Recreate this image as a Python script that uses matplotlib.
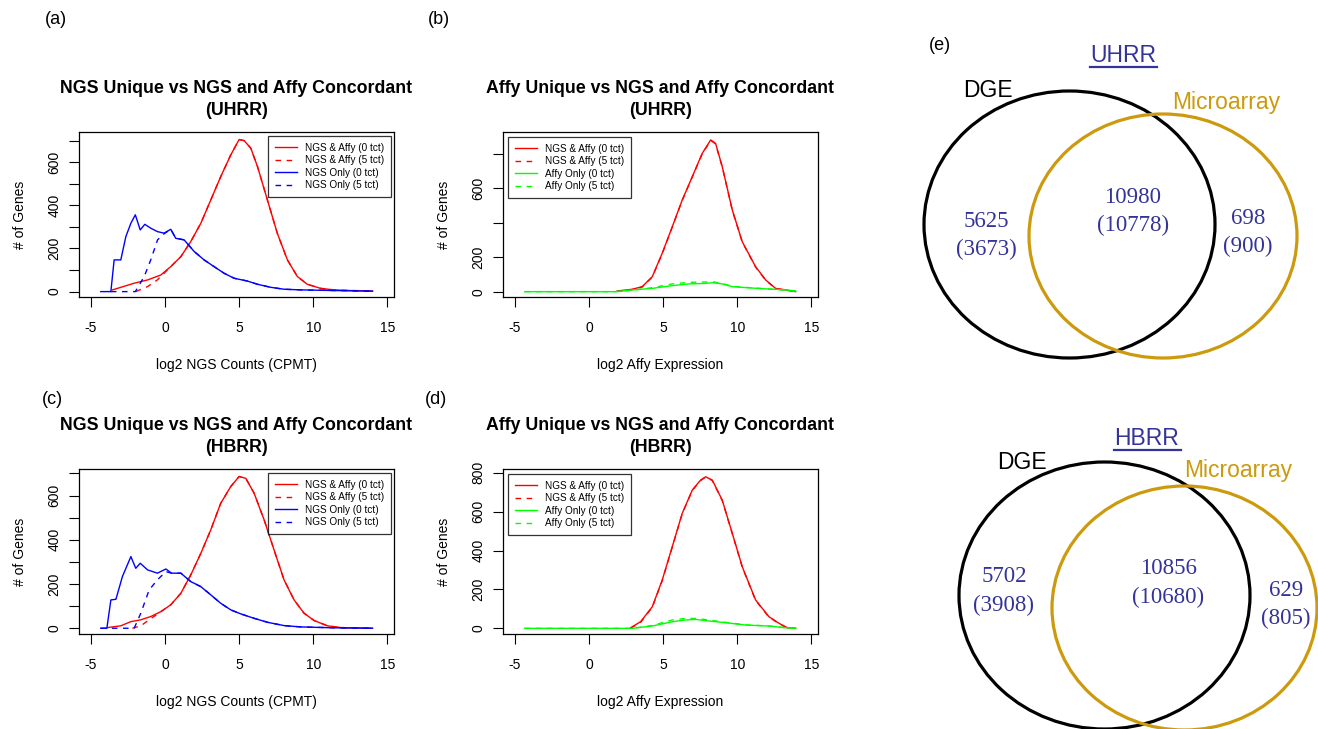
import numpy as np
import matplotlib
matplotlib.use("Agg")
import matplotlib.pyplot as plt
from matplotlib.patches import Ellipse

plt.rcParams['font.family'] = ['Liberation Sans', 'DejaVu Sans']
plt.rcParams['axes.unicode_minus'] = False

W, H = 1318, 729

# (a) NGS unique vs concordant, UHRR  (x = log2 CPMT, y = # of genes)
a_conc_x = [-3.54, -2.08, -1.18, -0.28, 0.39, 1.07, 1.74, 2.42, 3.09, 3.76, 4.44, 5.0,
            5.34, 5.79, 6.24, 6.91, 7.58, 8.26, 8.93, 9.6, 10.5, 11.4, 12.5, 14.0]
a_conc_y = [8, 39, 54, 77, 116, 162, 232, 317, 425, 533, 634, 705,
            700, 665, 580, 425, 270, 147, 70, 34, 15, 8, 5, 3]
a_conc5_x = [-1.97, -1.18, -0.5] + a_conc_x[4:]
a_conc5_y = [0, 23, 55] + a_conc_y[4:]
a_only_x = [-4.33, -3.65, -3.43, -2.98, -2.64, -2.3, -2.0, -1.67, -1.36, -0.96, -0.5, -0.06,
            0.39, 0.73, 1.29, 1.97, 2.64, 3.31, 3.99, 4.66, 5.56, 6.24, 7.13, 8.03, 9.16, 11.4, 14.0]
a_only_y = [0, 0, 147, 147, 255, 317, 356, 286, 312, 294, 278, 271,
            289, 247, 240, 186, 147, 116, 85, 62, 49, 34, 20, 11, 8, 5, 2]
a_only5_x = [-3.65, -2.0, -1.4, -0.96, -0.5, -0.06] + a_only_x[12:]
a_only5_y = [0, 0, 70, 147, 240, 268] + a_only_y[12:]

# (b) Affy unique vs concordant, UHRR  (x = log2 Affy expression)
b_conc_x = [1.91, 2.92, 3.59, 4.27, 4.94, 5.62, 6.29, 6.97, 7.64, 8.21, 8.54, 8.99,
            9.67, 10.34, 11.24, 11.92, 12.59, 13.27, 13.94]
b_conc_y = [4, 14, 29, 87, 223, 377, 532, 668, 803, 881, 861, 726,
            474, 290, 145, 68, 19, 10, 0]
b_conc5_y = [2, 12, 27, 85, 220, 375, 530, 666, 800, 878, 858, 724,
             472, 288, 143, 66, 18, 9, 0]
b_only_x = [-4.33, 1.79, 2.92, 4.27, 5.62, 6.74, 7.87, 8.32, 8.99, 9.67, 11.02, 12.37, 13.27, 13.94]
b_only_y = [0, 0, 10, 19, 35, 45, 48, 52, 45, 29, 21, 14, 10, 4]
b_only5_y = [0, 0, 8, 23, 45, 54, 56, 58, 48, 31, 22, 14, 9, 3]

# (c) NGS unique vs concordant, HBRR
c_conc_x = [-3.88, -2.98, -2.3, -1.63, -0.96, -0.28, 0.39, 1.07, 1.74, 2.42, 3.09, 3.76,
            4.44, 5.0, 5.45, 6.01, 6.69, 7.36, 8.03, 8.71, 9.38, 10.06, 10.96, 11.85, 14.0]
c_conc_y = [3, 11, 30, 38, 53, 75, 106, 158, 241, 339, 445, 565,
            641, 686, 678, 611, 490, 354, 219, 128, 68, 35, 11, 3, 0]
c_conc5_x = [-2.2, -1.63, -1.07] + c_conc_x[5:]
c_conc5_y = [0, 11, 38] + c_conc_y[5:]
c_only_x = [-4.33, -3.92, -3.65, -3.31, -2.87, -2.3, -1.97, -1.67, -1.18, -0.51, 0.06, 0.44,
            1.07, 1.74, 2.42, 3.09, 3.76, 4.44, 5.11, 6.01, 6.91, 8.03, 9.16, 11.4, 14.0]
c_only_y = [0, 0, 128, 131, 234, 324, 271, 294, 264, 249, 268, 249,
            249, 211, 188, 151, 113, 83, 65, 45, 27, 12, 6, 2, 0]
c_only5_x = [-4.33, -2.08, -1.63, -1.07, -0.51, 0.06] + c_only_x[11:]
c_only5_y = [0, 0, 68, 173, 219, 256] + c_only_y[11:]

# (d) Affy unique vs concordant, HBRR
d_conc_x = [2.81, 3.48, 4.27, 4.94, 5.62, 6.29, 6.97, 7.53, 7.87, 8.32, 8.99, 9.67,
            10.34, 11.24, 12.14, 12.82, 13.38, 13.94]
d_conc_y = [3, 34, 111, 248, 420, 591, 711, 762, 779, 762, 659, 488,
            317, 146, 60, 26, 3, 0]
d_conc5_y = [1, 31, 108, 245, 418, 589, 709, 760, 777, 760, 657, 486,
             315, 144, 58, 24, 2, 0]
d_only_x = [-4.33, 2.92, 4.27, 5.62, 6.51, 7.19, 8.09, 9.22, 10.57, 12.14, 13.27, 13.94]
d_only_y = [0, 0, 12, 34, 43, 46, 38, 29, 17, 12, 3, 0]
d_only5_y = [0, 0, 15, 43, 51, 51, 43, 31, 18, 12, 3, 0]

# (e) Venn counts: DGE only, both, microarray only; second row = 5 tct
venn_uhrr = [5625, 10980, 698]
venn_uhrr5 = [3673, 10778, 900]
venn_hbrr = [5702, 10856, 629]
venn_hbrr5 = [3908, 10680, 805]

fig = plt.figure(figsize=(W / 100, H / 100), dpi=100)


def px_axes(left, top, right, bottom):
    return fig.add_axes([left / W, 1 - bottom / H, (right - left) / W, (bottom - top) / H])


def density_panel(box, title, xlabel, ylim, yticks, ylabels, series, leg_labels, leg_loc):
    ax = px_axes(*box)
    for (x, y), lab in zip(series, leg_labels):
        ax.plot(x, y, color=lab[1], lw=1.0, linestyle=lab[2], label=lab[0])
    ax.set_xlim(-5.8, 15.45)
    ax.set_ylim(ylim)
    ax.set_xticks([-5, 0, 5, 10, 15])
    ax.set_yticks(yticks)
    ax.set_yticklabels(ylabels, rotation=90, va='center')
    ax.tick_params(axis='both', direction='out', length=7.5, width=0.8, labelsize=10)
    ax.tick_params(axis='x', pad=10)
    ax.tick_params(axis='y', pad=5)
    for s in ax.spines.values():
        s.set_linewidth(0.9)
    ax.set_title(title, fontsize=12.8, fontweight='bold', pad=12, linespacing=1.4)
    ax.set_xlabel(xlabel, fontsize=10)
    ax.xaxis.set_label_coords(0.5, -0.37)
    ax.set_ylabel("# of Genes", fontsize=10)
    ax.yaxis.set_label_coords(-0.165, 0.5)
    if leg_loc == 'right':
        leg = ax.legend(loc='upper right', bbox_to_anchor=(0.99, 0.976), borderaxespad=0)
    else:
        leg = ax.legend(loc='upper left', bbox_to_anchor=(0.016, 0.97), borderaxespad=0)
    leg.get_frame().set_boxstyle('square', pad=0)
    leg.get_frame().set_edgecolor('black')
    leg.get_frame().set_linewidth(0.9)
    return ax


plt.rcParams['legend.handlelength'] = 2.2
plt.rcParams['legend.handletextpad'] = 0.8
plt.rcParams['legend.labelspacing'] = 0.25
plt.rcParams['legend.borderpad'] = 0.7
plt.rcParams['legend.fontsize'] = 7.2

ngs_labels = [("NGS & Affy (0 tct)", 'red', '-'), ("NGS & Affy (5 tct)", 'red', (0, (4, 4))),
              ("NGS Only (0 tct)", 'blue', '-'), ("NGS Only (5 tct)", 'blue', (0, (4, 4)))]
affy_labels = [("NGS & Affy (0 tct)", 'red', '-'), ("NGS & Affy (5 tct)", 'red', (0, (4, 4))),
               ("Affy Only (0 tct)", '#00FF00', '-'), ("Affy Only (5 tct)", '#00FF00', (0, (4, 4)))]

density_panel((79, 132, 394, 297), "NGS Unique vs NGS and Affy Concordant\n(UHRR)",
              "log2 NGS Counts (CPMT)", (-25, 740), range(0, 701, 100),
              ['0', '', '200', '', '400', '', '600', ''],
              [(a_conc_x, a_conc_y), (a_conc5_x, a_conc5_y), (a_only_x, a_only_y), (a_only5_x, a_only5_y)],
              ngs_labels, 'right')
density_panel((503, 132, 818, 297), "Affy Unique vs NGS and Affy Concordant\n(UHRR)",
              "log2 Affy Expression", (-31, 927), range(0, 801, 200),
              ['0', '200', '', '600', ''],
              [(b_conc_x, b_conc_y), (b_conc_x, b_conc5_y), (b_only_x, b_only_y), (b_only_x, b_only5_y)],
              affy_labels, 'left')
density_panel((79, 469, 394, 634), "NGS Unique vs NGS and Affy Concordant\n(HBRR)",
              "log2 NGS Counts (CPMT)", (-26, 720), range(0, 701, 100),
              ['0', '', '200', '', '400', '', '600', ''],
              [(c_conc_x, c_conc_y), (c_conc5_x, c_conc5_y), (c_only_x, c_only_y), (c_only5_x, c_only5_y)],
              ngs_labels, 'right')
density_panel((503, 469, 818, 634), "Affy Unique vs NGS and Affy Concordant\n(HBRR)",
              "log2 Affy Expression", (-29, 819), range(0, 801, 200),
              ['0', '200', '400', '600', '800'],
              [(d_conc_x, d_conc_y), (d_conc_x, d_conc5_y), (d_only_x, d_only_y), (d_only_x, d_only5_y)],
              affy_labels, 'left')

for lab, x, y in [("(a)", 45, 20), ("(b)", 428, 20), ("(c)", 42, 400), ("(d)", 425, 400), ("(e)", 929, 45)]:
    fig.text(x / W, 1 - y / H, lab, fontsize=13, va='center', ha='left')

# Venn diagrams, drawn in pixel coordinates
vax = px_axes(880, 0, 1318, 729)
vax.set_xlim(880, 1318)
vax.set_ylim(729, 0)
vax.axis('off')

GOLD = '#CC9A0C'
NAVY = '#333399'


def venn(title, tx, ty, dge_pos, dge_lbl, mic_pos, mic_lbl, counts, counts5, num_pos):
    vax.add_patch(Ellipse(dge_pos[:2], dge_pos[2], dge_pos[3], fill=False, ec='black', lw=2.3, clip_on=False))
    vax.add_patch(Ellipse(mic_pos[:2], mic_pos[2], mic_pos[3], fill=False, ec=GOLD, lw=2.3, clip_on=False))
    vax.text(tx, ty, title, color=NAVY, fontsize=16.5, ha='center', va='center')
    w = 67
    vax.plot([tx - w / 2, tx + w / 2], [ty + 12, ty + 12], color=NAVY, lw=1.6)
    vax.text(dge_lbl[0], dge_lbl[1], "DGE", fontsize=16.5, ha='left', va='center', color='black')
    vax.text(mic_lbl[0], mic_lbl[1], "Microarray", fontsize=16.5, ha='left', va='center', color=GOLD)
    for n, n5, (x, y) in zip(counts, counts5, num_pos):
        vax.text(x, y, str(n), fontsize=16.5, ha='center', va='center', color=NAVY,
                 family='Liberation Serif')
        vax.text(x, y + 28, "(%d)" % n5, fontsize=16.5, ha='center', va='center', color=NAVY,
                 family='Liberation Serif')


venn("UHRR", 1123, 55, (1069.5, 224.5, 291, 267), (963, 90), (1163, 236, 268, 244), (1172, 102),
     venn_uhrr, venn_uhrr5, [(986, 221), (1133, 197), (1248, 218)])
venn("HBRR", 1147, 438, (1104.5, 595.5, 291, 267), (997, 462), (1184.5, 608, 265, 244), (1184, 470),
     venn_hbrr, venn_hbrr5, [(1004, 577), (1168, 569), (1286, 590)])

fig.savefig("out.png", dpi=100)
